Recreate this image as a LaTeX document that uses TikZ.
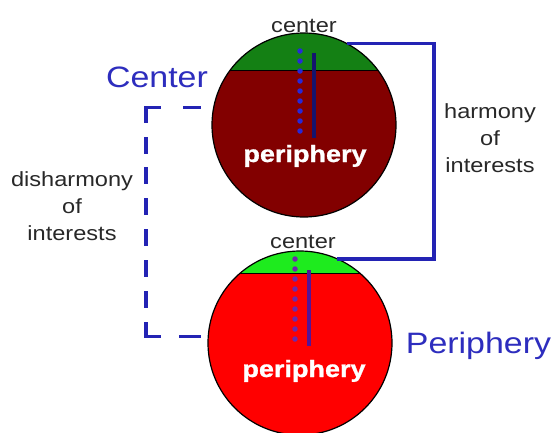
\documentclass[tikz,border=0pt]{standalone}
\usepackage{fontspec}
\setmainfont[FakeStretch=1.15, BoldFeatures={FakeBold=1.2}]{Liberation Sans}
\definecolor{topred}{RGB}{130,0,0}
\definecolor{topgreen}{RGB}{20,128,20}
\definecolor{botred}{RGB}{255,0,0}
\definecolor{botgreen}{RGB}{30,235,30}
\definecolor{lblblue}{RGB}{45,45,190}
\definecolor{brblue}{RGB}{35,35,180}
\definecolor{txtgray}{RGB}{40,40,40}
\definecolor{dotblue}{RGB}{40,40,215}
\definecolor{navy}{RGB}{20,20,110}
\definecolor{dotpurple}{RGB}{110,40,170}
\definecolor{solpurple}{RGB}{85,20,150}
\begin{document}
\begin{tikzpicture}[x=1pt,y=-1pt,
  lbl/.style={text=txtgray, font=\fontsize{20.5pt}{27pt}\selectfont, inner sep=0pt, align=center},
  big/.style={text=lblblue, font=\fontsize{29.5pt}{34pt}\selectfont, inner sep=0pt},
  peri/.style={text=white, font=\bfseries\fontsize{23.5pt}{28pt}\selectfont, inner sep=0pt},
  ball/.style={circle, draw=black, line width=1.2pt, minimum size=184pt, inner sep=0pt, outer sep=0pt},
  harm/.style={draw=brblue, line width=3.2pt},
  disharm/.style={draw=brblue, line width=3.5pt, line cap=rect},
  dotline/.style={line width=5.5pt, line cap=round, dash pattern=on 0pt off 10pt},
  solline/.style={line width=3.5pt},
]
\fill[white] (0,0) rectangle (555,432);
\useasboundingbox (0,0) rectangle (555,432);

% balls
\node[ball, fill=topred, path picture={
  \fill[topgreen] (path picture bounding box.north west) rectangle ([yshift=-37pt]path picture bounding box.north east);
  \draw[black, line width=0.8pt] ([yshift=-37pt]path picture bounding box.north west) -- ([yshift=-37pt]path picture bounding box.north east);
}] (top) at (304,125) {};
\node[ball, fill=botred, path picture={
  \fill[botgreen] (path picture bounding box.north west) rectangle ([yshift=-22pt]path picture bounding box.north east);
  \draw[black, line width=0.8pt] ([yshift=-22pt]path picture bounding box.north west) -- ([yshift=-22pt]path picture bounding box.north east);
}] (bot) at (300,343) {};

% inner lines
\draw[dotline, draw=dotblue] (300,51) -- (300,136);
\draw[solline, draw=navy] (314,53) -- (314,138);
\draw[dotline, draw=dotpurple] (295,259) -- (295,345);
\draw[solline, draw=solpurple] (309,270) -- (309,346);

% labels
\node[lbl, anchor=base] (ctop) at (304,32) {center};
\node[lbl, anchor=base] (cbot) at (303,248) {center};
\node[peri, anchor=base] (ptop) at (305,162) {periphery};
\node[peri, anchor=base] (pbot) at (304,377) {periphery};
\node[big, anchor=base] (lcenter) at (157,87) {Center};
\node[big, anchor=base] (lperi) at (478.5,353) {Periphery};
\node[lbl] (harmtxt) at (490,138) {harmony\\of\\interests};
\node[lbl] (disharmtxt) at (72,206) {disharmony\\of\\interests};

% brackets
\coordinate (hr) at (434,0);
\coordinate (hl) at (146,0);
\draw[harm] (top.62) -- (top.62 -| hr) |- (bot.66);
\draw[disharm, dash pattern=on 14pt off 26pt, dash phase=25.25pt] (top.169) -- (top.169 -| hl);
\draw[disharm, dash pattern=on 13.5pt off 17.35pt] (top.169 -| hl) -- (bot.176 -| hl);
\draw[disharm, dash pattern=on 13pt off 22pt on 18pt off 20pt] (bot.176 -| hl) -- (bot.176);
\end{tikzpicture}
\end{document}
